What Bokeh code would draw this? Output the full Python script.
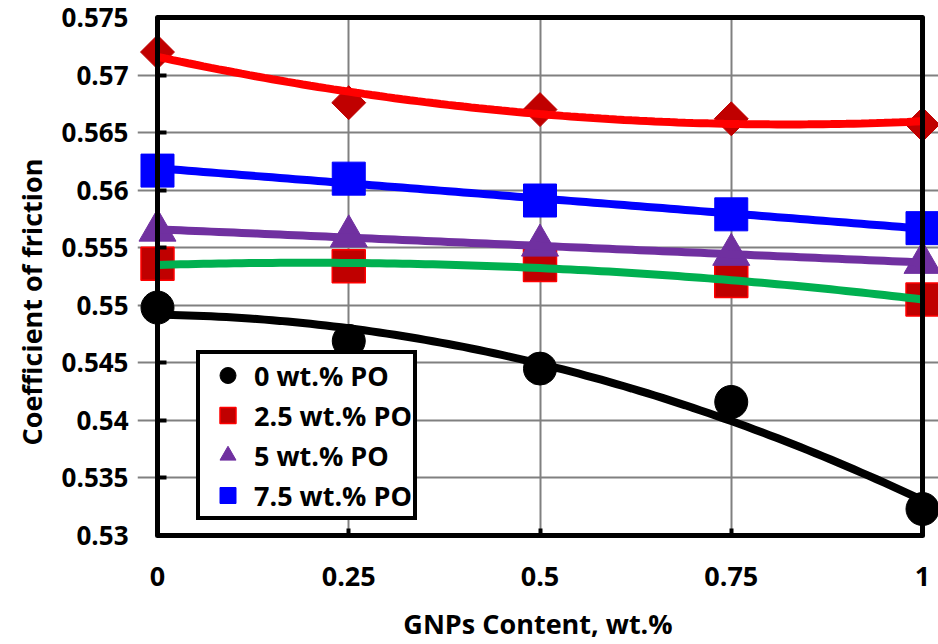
import numpy as np
from bokeh.plotting import figure
from bokeh.models import (Range1d, LinearAxis, FixedTicker, CustomJSTickFormatter,
                          Legend, LegendItem, Grid, Span, Title)
from bokeh.embed import file_html
from bokeh.resources import INLINE

# ---- data ----
gnp = [0.0, 0.25, 0.5, 0.75, 1.0]
cof_po0 = [0.5498, 0.5469, 0.5445, 0.5416, 0.5323]
cof_po25 = [0.5536, 0.5534, 0.5535, 0.5521, 0.5505]
cof_po5 = [0.5565, 0.5560, 0.5552, 0.5544, 0.5537]
cof_po75 = [0.5617, 0.5610, 0.5591, 0.5579, 0.5567]
cof_diamond = [0.5720, 0.5676, 0.5670, 0.5662, 0.5657]
x_ticks = [0, 0.25, 0.5, 0.75, 1]
y_ticks = [0.53, 0.535, 0.54, 0.545, 0.55, 0.555, 0.56, 0.565, 0.57, 0.575]
labels = ["0 wt.% PO", "2.5 wt.% PO", "5 wt.% PO", "7.5 wt.% PO"]

FONT = "Open Sans"

p = figure(width=938, height=644,
           x_range=Range1d(-0.02614, 1.0209), y_range=Range1d(0.53, 0.575),
           x_axis_type=None, y_axis_type=None,
           output_backend="svg", toolbar_location=None,
           min_border_left=137, min_border_right=0, min_border_top=17, min_border_bottom=109)
p.outline_line_color = None
p.background_fill_color = "white"

fmt = CustomJSTickFormatter(code="return String(Number(tick.toFixed(4)));")
blank = CustomJSTickFormatter(code="return '';")

# grids
p.add_layout(Grid(dimension=0, ticker=FixedTicker(ticks=x_ticks), grid_line_color="#808080",
                  grid_line_width=2))
p.add_layout(Grid(dimension=1, ticker=FixedTicker(ticks=y_ticks), grid_line_color="#808080",
                  grid_line_width=2, bounds=(0, 1)))

# y labels axis (at frame left)
ylab = LinearAxis(ticker=FixedTicker(ticks=y_ticks), formatter=fmt,
                  axis_line_color=None, major_tick_line_color=None, minor_tick_line_color=None,
                  major_tick_in=0, major_tick_out=0, major_label_standoff=9,
                  major_label_text_font=FONT, major_label_text_font_style="bold",
                  major_label_text_font_size="26px", major_label_text_color="black")
p.add_layout(ylab, "left")

# y axis line + ticks at x = 0
yline = LinearAxis(fixed_location=0, ticker=FixedTicker(ticks=y_ticks), formatter=blank,
                   axis_line_color="black", axis_line_width=5, axis_line_cap="round",
                   major_tick_line_color="black", major_tick_line_width=4,
                   major_tick_in=9, major_tick_out=0, minor_tick_line_color=None,
                   major_label_standoff=0, major_label_text_font_size="1px")
p.add_layout(yline, "left")

# y axis title
ytitle = Title(text="Coefficient of friction", align="left", offset=90, standoff=18,
               text_font=FONT, text_font_style="bold", text_font_size="27px",
               text_color="black")
p.add_layout(ytitle, "left")

# x axis
xax = LinearAxis(ticker=FixedTicker(ticks=x_ticks), formatter=fmt, bounds=(0, 1),
                 axis_line_color="black", axis_line_width=5, axis_line_cap="round",
                 major_tick_line_color="black", major_tick_line_width=4,
                 major_tick_in=7, major_tick_out=0, minor_tick_line_color=None,
                 major_label_standoff=31,
                 major_label_text_font=FONT, major_label_text_font_style="bold",
                 major_label_text_font_size="27px", major_label_text_color="black",
                 axis_label="GNPs Content, wt.%", axis_label_standoff=16,
                 axis_label_text_font=FONT, axis_label_text_font_style="bold",
                 axis_label_text_font_size="27px", axis_label_text_color="black")
p.add_layout(xax, "below")

# top border
top = LinearAxis(ticker=FixedTicker(ticks=[]), formatter=blank, bounds=(0, 1),
                 axis_line_color="black", axis_line_width=5, axis_line_cap="round",
                 major_tick_in=0, major_tick_out=0, minor_tick_line_color=None,
                 major_label_standoff=0, major_label_text_font_size="1px")
p.add_layout(top, "above")

# right border
p.add_layout(Span(location=1, dimension="height", line_color="black", line_width=5))

# markers
r0 = p.scatter(gnp, cof_po0, marker="circle", size=33, fill_color="black", line_color="black")
r25 = p.scatter(gnp, cof_po25, marker="square", size=33, fill_color="#C00000",
                line_color="#FF0000", line_width=1.5)
r5 = p.scatter(gnp, cof_po5, marker="triangle", size=37, fill_color="#7030A0",
               line_color="#7030A0")
r75 = p.scatter(gnp, cof_po75, marker="square", size=33, fill_color="#0000FF",
                line_color="#0000FF")
rd = p.scatter(gnp, cof_diamond, marker="square", angle=np.pi / 4, size=24,
               fill_color="#C00000", line_color="#C00000")

# trend lines (least-squares fits of the data)
xf = np.linspace(0, 1, 101)
def fit(y, deg):
    return np.polyval(np.polyfit(gnp, y, deg), xf)

p.line(xf, fit(cof_po0, 2), line_color="black", line_width=8)
p.line(xf, fit(cof_po25, 2), line_color="#00B050", line_width=8)
p.line(xf, fit(cof_po5, 1), line_color="#7030A0", line_width=8)
p.line(xf, fit(cof_po75, 1), line_color="#0000FF", line_width=8)
p.line(xf, fit(cof_diamond, 2), line_color="#FF0000", line_width=8)

legend = Legend(items=[LegendItem(label=labels[0], renderers=[r0]),
                       LegendItem(label=labels[1], renderers=[r25]),
                       LegendItem(label=labels[2], renderers=[r5]),
                       LegendItem(label=labels[3], renderers=[r75])],
                location=(59, 15), margin=0, padding=1, spacing=0,
                glyph_height=40, glyph_width=53, label_standoff=0,
                label_text_font=FONT, label_text_font_style="bold",
                label_text_font_size="27px", label_text_color="black",
                border_line_color="black", border_line_width=4, border_line_alpha=1,
                background_fill_color="white", background_fill_alpha=1)
p.add_layout(legend, "center")

open("out.html", "w").write(file_html(p, INLINE))
